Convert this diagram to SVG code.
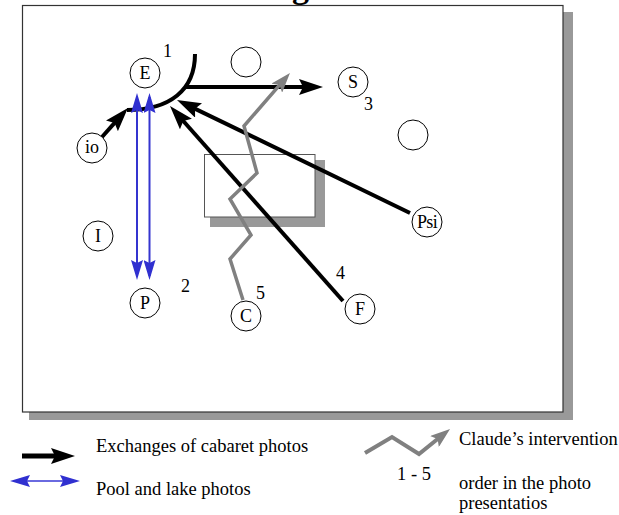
<svg xmlns="http://www.w3.org/2000/svg" width="619" height="515" viewBox="0 0 619 515">
<style>
text{font-family:"Liberation Serif","Times New Roman",serif;fill:#000}
.lbl{font-size:18px}
.nl{font-size:18px;text-anchor:middle}
.leg{font-size:18.5px}
.node circle{fill:#fff;stroke:#000;stroke-width:1}
.blk{fill:none;stroke:#000;stroke-width:4}
.gry{fill:none;stroke:#808080;stroke-width:3.5;stroke-linejoin:miter}
.blu{fill:none;stroke:#3434cf;stroke-width:2}
</style>
<defs>
<marker id="ah" markerUnits="userSpaceOnUse" viewBox="0 0 24 16" markerWidth="24" markerHeight="16" refX="10" refY="8" orient="auto">
<path d="M0,0 L24,8 L0,16 L4,8 z" fill="#000"/>
</marker>
<marker id="ahg" markerUnits="userSpaceOnUse" viewBox="0 0 20 14" markerWidth="20" markerHeight="14" refX="8" refY="7" orient="auto">
<path d="M0,0 L20,7 L0,14 L4,7 z" fill="#808080"/>
</marker>
<marker id="ahb" markerUnits="userSpaceOnUse" viewBox="0 0 20 12" markerWidth="20" markerHeight="12" refX="16" refY="6" orient="auto-start-reverse">
<path d="M0,0 L20,6 L0,12 L3,6 z" fill="#3030d0"/>
</marker>
</defs>
<text x="292" y="-2" style="font-size:34px;font-weight:bold">g</text>
<g id="frame">
<rect x="29" y="12" width="544" height="408" fill="#999"/>
<rect x="22.5" y="5.5" width="540.5" height="406.5" fill="#fff" stroke="#333" stroke-width="1.2"/>
</g>
<g id="screen">
<rect x="210" y="160" width="115" height="67" fill="#999"/>
<rect x="204.5" y="154.5" width="110.5" height="62.5" fill="#fff" stroke="#555" stroke-width="1"/>
</g>
<g id="connectors">
<path id="arc" class="blk" d="M195,54 C195,90 170,110 127,110"/>
<line class="blk" x1="185" y1="87" x2="309" y2="87" marker-end="url(#ah)"/>
<line class="blk" x1="102" y1="137" x2="118.6" y2="118.4" marker-end="url(#ah)"/>
<line class="blk" x1="410" y1="213" x2="189.6" y2="106.1" marker-end="url(#ah)"/>
<line class="blk" x1="343" y1="301" x2="179.3" y2="116.5" marker-end="url(#ah)"/>
<polyline class="gry" points="243,300 230,259 251,235 230,199 257,173 244,126 282.1,82.1" marker-end="url(#ahg)"/>
<line class="blu" x1="137" y1="97" x2="137" y2="276" marker-start="url(#ahb)" marker-end="url(#ahb)"/>
<line class="blu" x1="149.5" y1="97" x2="149.5" y2="276" marker-start="url(#ahb)" marker-end="url(#ahb)"/>
</g>
<g id="node-E" class="node"><circle cx="145" cy="73" r="15"/><text class="nl" x="145" y="79">E</text></g>
<g id="node-top" class="node"><circle cx="246" cy="62" r="15"/></g>
<g id="node-S" class="node"><circle cx="353" cy="82" r="15"/><text class="nl" x="353" y="88">S</text></g>
<g id="node-right" class="node"><circle cx="413" cy="135" r="15"/></g>
<g id="node-io" class="node"><circle cx="92" cy="148" r="15"/><text class="nl" x="92" y="153">io</text></g>
<g id="node-I" class="node"><circle cx="98" cy="236" r="15"/><text class="nl" x="98" y="242">I</text></g>
<g id="node-P" class="node"><circle cx="145" cy="303" r="15"/><text class="nl" x="145" y="309">P</text></g>
<g id="node-C" class="node"><circle cx="246" cy="316" r="15"/><text class="nl" x="246" y="322">C</text></g>
<g id="node-F" class="node"><circle cx="360" cy="309" r="15"/><text class="nl" x="360" y="315">F</text></g>
<g id="node-Psi" class="node"><circle cx="427" cy="222" r="15"/><text class="nl" x="427" y="228" style="letter-spacing:-0.7px">Psi</text></g>
<g id="numbers">
<text class="lbl" x="163" y="57">1</text>
<text class="lbl" x="181" y="292">2</text>
<text class="lbl" x="364" y="110">3</text>
<text class="lbl" x="336" y="279">4</text>
<text class="lbl" x="256" y="299">5</text>
</g>
<g id="legend">
<line x1="22" y1="456" x2="61" y2="456" stroke="#000" stroke-width="5" marker-end="url(#ah)"/>
<line x1="14" y1="481" x2="76" y2="481" stroke="#6a6ae0" stroke-width="2" marker-start="url(#ahb)" marker-end="url(#ahb)"/>
<polyline class="gry" style="stroke-width:4" points="365,453 392,437 419,454 440.7,436.5" marker-end="url(#ahg)"/>
<text class="leg" x="96" y="452">Exchanges of cabaret photos</text>
<text class="leg" x="96" y="495">Pool and lake photos</text>
<text class="leg" x="459" y="445">Claude’s intervention</text>
<text class="leg" x="397" y="480">1 - 5</text>
<text class="leg" x="459" y="489">order in the photo</text>
<text class="leg" x="459" y="509">presentatios</text>
</g>
</svg>
